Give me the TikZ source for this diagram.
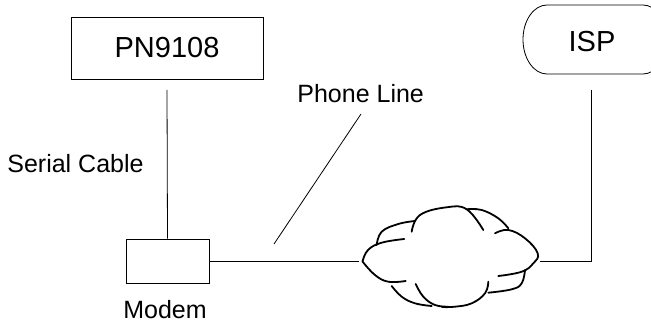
\documentclass[tikz,border=0pt]{standalone}
\usepackage{fontspec}
\setmainfont{Liberation Sans}
\begin{document}
\begin{tikzpicture}[x=1pt,y=-1pt,line width=0.8pt,
  box/.style={draw,rectangle,inner sep=0pt},
  bigtext/.style={font=\fontsize{29}{34}\selectfont,inner sep=0pt},
  lbl/.style={font=\fontsize{25}{30}\selectfont,inner sep=0pt},
  wire/.style={line width=0.8pt},
  cloudline/.style={line width=1.8pt,line cap=round}]
\useasboundingbox (0,0) rectangle (651,323);
\clip (0,0) rectangle (651,323);
% nodes
\node[box,bigtext,minimum width=192pt,minimum height=62pt] (pn) at (167,48) {PN9108};
\node[box,minimum width=83pt,minimum height=44pt] (modem) at (167.5,261) {};
\node[lbl,anchor=base] (modemlbl) at (165,319) {Modem};
\node[lbl,anchor=base west] (serial) at (7,173) {Serial Cable};
\node[lbl,anchor=base west] (phone) at (297,103) {Phone Line};
\node[bigtext,anchor=base] (isp) at (592,52) {ISP};
% ISP outline
\draw (547,5) -- (643,5)
  .. controls (656.25,5) and (667,20.45) .. (667,39.5)
  .. controls (667,58.55) and (656.25,74) .. (643,74)
  -- (547,74)
  .. controls (533.75,74) and (523,58.55) .. (523,39.5)
  .. controls (523,20.45) and (533.75,5) .. cycle;
% connector ends
\coordinate (pnwire) at (167,90);
\coordinate (cloudLwire) at (359,261);
\coordinate (cloudRwire) at (540,261);
\coordinate (corner) at (591,261);
\coordinate (ispwire) at (591,90);
\coordinate (phoneA) at (361,114);
\coordinate (phoneB) at (274,244);
% connectors
\draw[wire] (pnwire) -- (modem.north);
\draw[wire] (modem.east) -- (cloudLwire);
\draw[wire] (cloudRwire) -- (corner) -- (ispwire);
\draw[wire] (phoneA) -- (phoneB);
% cloud
\begin{scope}[cloudline]
\draw plot[smooth,tension=0.7] coordinates {(362.5,261.5) (368,250) (381.7,242.7) (404.3,239)};
\draw plot[smooth,tension=0.7] coordinates {(376.7,245) (381.7,231.7) (398.3,224) (415,221)};
\draw plot[smooth,tension=0.7] coordinates {(411.7,231.7) (420,215) (446.7,207.3) (466.7,209.3) (483.3,230)};
\draw plot[smooth,tension=0.7] coordinates {(466.7,209.3) (481.7,210) (498.3,218.3) (508.3,228.3)};
\draw plot[smooth,tension=0.7] coordinates {(495,233.3) (508.3,230) (525,238.3) (537.7,253.3) (533.3,263.3) (521.7,271.7) (498.3,276)};
\draw plot[smooth,tension=0.7] coordinates {(525,270) (521.7,283.3) (511.7,289.3) (488.3,292.7)};
\draw plot[smooth,tension=0.7] coordinates {(488.3,281.7) (485,293.3) (471.7,303.3) (455,306.7) (442,307)};
\draw plot[smooth,tension=0.7] coordinates {(415.7,284) (423.3,296.7) (435,305) (448.3,306.7)};
\draw plot[smooth,tension=0.7] coordinates {(391.7,286) (401.7,296.7) (415,303.3) (431.7,306)};
\draw plot[smooth,tension=0.7] coordinates {(362.5,261.5) (375,275) (388.3,281.7) (405.7,281)};
\end{scope}
\end{tikzpicture}
\end{document}
